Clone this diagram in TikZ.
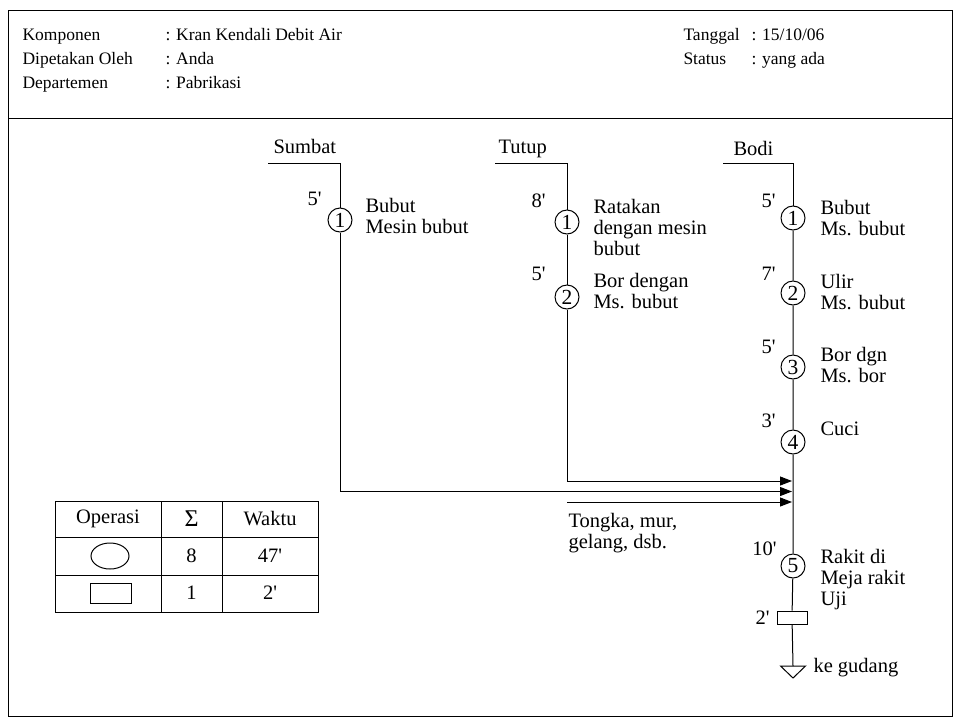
\documentclass[tikz,border=0pt]{standalone}
\usepackage{fontspec}
\setmainfont{Liberation Serif}
\usetikzlibrary{arrows.meta}
\newcommand\bodyfont{\fontsize{20.5}{21}\selectfont}
\newcommand\headfont{\fontsize{17.5}{21}\selectfont}
\newcommand\circfont{\fontsize{21.5}{21.5}\selectfont}
\newcommand\pr{\textquotesingle}
\begin{document}
\begin{tikzpicture}[x=1pt,y=-1pt,line width=1pt,
  proc/.style={circle,draw,minimum size=24pt,inner sep=0pt,font=\circfont},
  lbl/.style={anchor=north west,inner sep=0pt,align=left,font=\bodyfont},
  tm/.style={anchor=base east,inner sep=0pt,font=\bodyfont},
  ttl/.style={anchor=base west,inner sep=0pt,font=\bodyfont},
  hd/.style={anchor=base west,inner sep=0pt,font=\headfont},
  cell/.style={inner sep=0pt,font=\bodyfont},
  arr/.style={-{Triangle[length=12pt,width=9pt]}}]
\useasboundingbox (0,0) rectangle (957,718);
% frame
\draw (8,10) rectangle (952,716);
\draw (8,118) -- (952,118);
% header
\node[hd] (k1) at (22,40) {Komponen};
\node[hd] (v1) at (165,40) {: Kran Kendali Debit Air};
\node[hd] (k2) at (22,64) {Dipetakan Oleh};
\node[hd] (v2) at (165,64) {: Anda};
\node[hd] (k3) at (22,88) {Departemen};
\node[hd] (v3) at (165,88) {: Pabrikasi};
\node[hd] (k4) at (683,40) {Tanggal};
\node[hd] (v4) at (751,40) {: 15/10/06};
\node[hd] (k5) at (683,64) {Status};
\node[hd] (v5) at (751,64) {: yang ada};
% Sumbat
\node[ttl] (sT) at (273,153) {Sumbat};
\coordinate (sA) at (268,163);
\coordinate (sB) at (340,163);
\node[proc] (s1) at (340,220) {1};
\node[tm] (s1t) at (322,205) {5\pr};
\node[lbl] (s1l) at (365,212-14.7) {\strut Bubut\\\strut Mesin bubut};
% Tutup
\node[ttl] (tT) at (498,153) {Tutup};
\coordinate (tA) at (495,163);
\coordinate (tB) at (567,163);
\node[proc] (t1) at (567,222) {1};
\node[tm] (t1t) at (546,207) {8\pr};
\node[lbl] (t1l) at (593,213-14.7) {\strut Ratakan\\\strut dengan mesin\\\strut bubut};
\node[proc] (t2) at (567,297) {2};
\node[tm] (t2t) at (546,280) {5\pr};
\node[lbl] (t2l) at (593,287-14.7) {\strut Bor dengan\\\strut Ms. bubut};
% Bodi
\node[ttl] (bT) at (733,155) {Bodi};
\coordinate (bA) at (723,163);
\coordinate (bB) at (793,163);
\node[proc] (b1) at (793,218) {1};
\node[tm] (b1t) at (776,207) {5\pr};
\node[lbl] (b1l) at (820,214-14.7) {\strut Bubut\\\strut Ms. bubut};
\node[proc] (b2) at (793,293) {2};
\node[tm] (b2t) at (776,280) {7\pr};
\node[lbl] (b2l) at (820,288-14.7) {\strut Ulir\\\strut Ms. bubut};
\node[proc] (b3) at (793,367) {3};
\node[tm] (b3t) at (776,353) {5\pr};
\node[lbl] (b3l) at (820,361-14.7) {\strut Bor dgn\\\strut Ms. bor};
\node[proc] (b4) at (793,442) {4};
\node[tm] (b4t) at (776,427) {3\pr};
\node[lbl] (b4l) at (820,435-14.7) {\strut Cuci};
\node[proc] (b5) at (793,566) {5};
\node[tm] (b5t) at (777,555) {10\pr};
\node[lbl] (b5l) at (820,563-14.7) {\strut Rakit di\\\strut Meja rakit\\\strut Uji};
\node[draw,minimum width=30pt,minimum height=13pt,inner sep=0pt] (br) at (792,617.5) {};
\node[tm] (brt) at (770,624) {2\pr};
\coordinate (tri) at (793,666);
\draw (tri) -- ++(-12.5,0) -- ++(12.5,12) -- ++(12.5,-12) -- cycle;
\node[ttl] (gd) at (813,672) {ke gudang};
% connectors
\draw (sA) -- (sB) -- (s1);
\draw (tA) -- (tB) -- (t1);
\draw (t1) -- (t2);
\draw (bA) -- (bB) -- (b1);
\draw (b1) -- (b2) -- (b3) -- (b4) -- (b5) -- (br) -- (tri);
\coordinate (aT) at (792,481);
\coordinate (aS) at (792,491.5);
\coordinate (aK) at (792,502);
\coordinate (tk) at (567,502);
\draw[arr] (t2.south) |- (aT);
\draw[arr] (s1.south) |- (aS);
\draw[arr] (tk) -- (aK);
\node[lbl] (tkl) at (568,527-14.7) {\strut Tongka, mur,\\\strut gelang, dsb.};
% table
\draw (55,501) rectangle (318,612);
\draw (55,537) -- (318,537);
\draw (55,575) -- (318,575);
\draw (161,501) -- (161,612);
\draw (222,501) -- (222,612);
\node[cell] (h1) at (108,519) {Operasi};
\node[cell,font=\fontsize{24}{24}\selectfont] (h2) at (191.5,519) {Σ};
\node[cell] (h3) at (270,519) {Waktu};
\draw (110,556) ellipse [x radius=19, y radius=13];
\node[cell] (r1b) at (191.5,556) {8};
\node[cell] (r1c) at (270,556) {47\pr};
\draw (90,583) rectangle (131,603);
\node[cell] (r2b) at (191.5,593) {1};
\node[cell] (r2c) at (270,593) {2\pr};
\end{tikzpicture}
\end{document}
